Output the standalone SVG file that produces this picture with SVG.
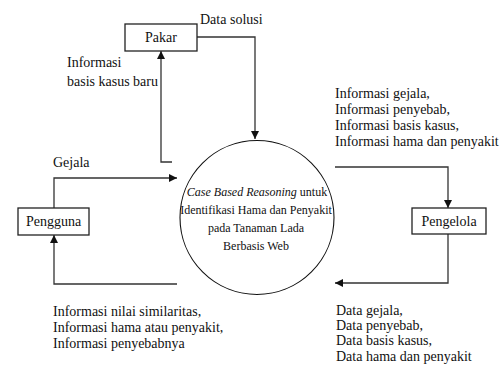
<svg xmlns="http://www.w3.org/2000/svg" width="500" height="368" viewBox="0 0 500 368">
<defs>
<style>
text{fill:#111;}
.lbl{font-size:14px;}
.c{font-size:12px;text-anchor:middle;}
.box{fill:#fff;stroke:#222;stroke-width:1.3;}
.ln{fill:none;stroke:#333;stroke-width:1.3;}
</style>
<marker id="ah" viewBox="0 0 10 10" refX="10" refY="5" markerWidth="8" markerHeight="8" markerUnits="userSpaceOnUse" orient="auto">
<path d="M0,0 L10,5 L0,10 z" fill="#111"/>
</marker>
</defs>
<rect width="500" height="368" fill="#fff"/>
<g id="connectors">
<polyline class="ln" points="197,37 255,37 255,139" marker-end="url(#ah)"/>
<polyline class="ln" points="172,162 161,162 161,51" marker-end="url(#ah)"/>
<polyline class="ln" points="54,208 54,178 177,178" marker-end="url(#ah)"/>
<polyline class="ln" points="177,284 54,284 54,235" marker-end="url(#ah)"/>
<polyline class="ln" points="335,167 448,167 448,208" marker-end="url(#ah)"/>
<polyline class="ln" points="448,234 448,283 335,283" marker-end="url(#ah)"/>
<text class="lbl" font-family="'Liberation Serif', serif" x="200" y="24">Data solusi</text>
<text class="lbl" font-family="'Liberation Serif', serif" x="67" y="67">Informasi</text>
<text class="lbl" font-family="'Liberation Serif', serif" x="67" y="86">basis kasus baru</text>
<text class="lbl" font-family="'Liberation Serif', serif" x="53" y="167">Gejala</text>
<text class="lbl" font-family="'Liberation Serif', serif" x="335" y="98">Informasi gejala,</text>
<text class="lbl" font-family="'Liberation Serif', serif" x="335" y="114">Informasi penyebab,</text>
<text class="lbl" font-family="'Liberation Serif', serif" x="335" y="130">Informasi basis kasus,</text>
<text class="lbl" font-family="'Liberation Serif', serif" x="335" y="146">Informasi hama dan penyakit</text>
<text class="lbl" font-family="'Liberation Serif', serif" x="53" y="316">Informasi nilai similaritas,</text>
<text class="lbl" font-family="'Liberation Serif', serif" x="53" y="332">Informasi hama atau penyakit,</text>
<text class="lbl" font-family="'Liberation Serif', serif" x="53" y="348">Informasi penyebabnya</text>
<text class="lbl" font-family="'Liberation Serif', serif" x="336" y="315">Data gejala,</text>
<text class="lbl" font-family="'Liberation Serif', serif" x="336" y="330">Data penyebab,</text>
<text class="lbl" font-family="'Liberation Serif', serif" x="336" y="345">Data basis kasus,</text>
<text class="lbl" font-family="'Liberation Serif', serif" x="336" y="361">Data hama dan penyakit</text>
</g>
<g id="process">
<circle cx="257" cy="217.5" r="77" fill="#fff" stroke="#111" stroke-width="1.1"/>
<text class="c" font-family="'Liberation Serif', serif" x="257" y="196"><tspan font-style="italic">Case Based Reasoning</tspan> untuk</text>
<text class="c" font-family="'Liberation Serif', serif" x="256" y="214">Identifikasi Hama dan Penyakit</text>
<text class="c" font-family="'Liberation Serif', serif" x="256" y="232">pada Tanaman Lada</text>
<text class="c" font-family="'Liberation Serif', serif" x="256" y="250">Berbasis Web</text>
</g>
<g id="pakar">
<rect class="box" x="125" y="24" width="72" height="27"/>
<text class="lbl" font-family="'Liberation Serif', serif" x="161" y="42" text-anchor="middle">Pakar</text>
</g>
<g id="pengguna">
<rect class="box" x="18" y="208" width="71" height="27"/>
<text class="lbl" font-family="'Liberation Serif', serif" x="53.5" y="226" text-anchor="middle">Pengguna</text>
</g>
<g id="pengelola">
<rect class="box" x="412" y="208" width="74" height="26"/>
<text class="lbl" font-family="'Liberation Serif', serif" x="449" y="226" text-anchor="middle">Pengelola</text>
</g>
</svg>
